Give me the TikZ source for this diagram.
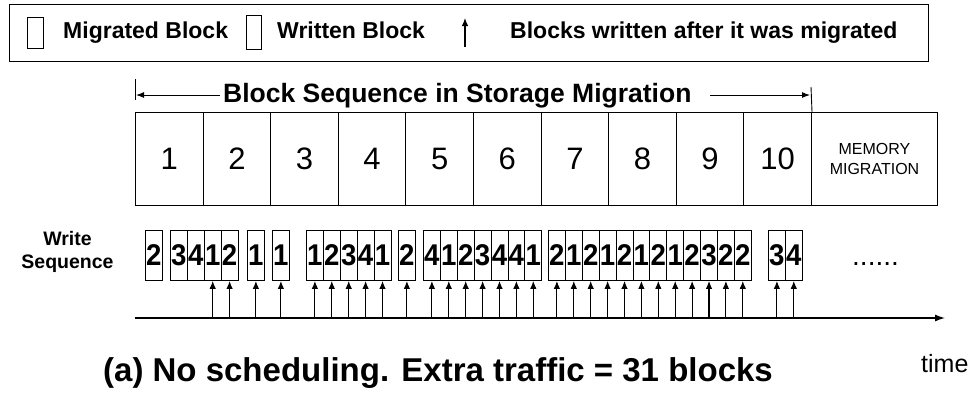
\documentclass[tikz,border=0pt]{standalone}
\usepackage{fontspec}
\setmainfont{Liberation Sans}
\newfontfamily\narrowfont{Liberation Sans}[FakeStretch=0.92]
\usetikzlibrary{arrows.meta}
\begin{document}
\begin{tikzpicture}[x=1pt,y=-1pt,line join=miter]
\tikzset{
  lbox/.style={draw,line width=1pt,inner sep=0pt,anchor=north west},
  lrect/.style={draw,line width=0.9pt,inner sep=0pt,anchor=north west},
  ltext/.style={anchor=base west,inner sep=0pt,font=\bfseries\fontsize{23}{27}\selectfont},
  blk/.style={draw,line width=1pt,inner sep=0pt,anchor=north west,minimum width=67.6pt,minimum height=93pt,font=\fontsize{31}{31}\selectfont},
  head/.style={anchor=base west,inner sep=0pt,font=\bfseries\fontsize{26.5}{30}\selectfont},
  wblk/.style={draw,line width=0.9pt,inner sep=0pt,anchor=north west,minimum width=16.9pt,minimum height=50pt,font=\narrowfont\bfseries\fontsize{30}{30}\selectfont},
  warrow/.style={line width=1.1pt,-{Latex[length=8pt,width=6.5pt]}},
  harrow/.style={line width=1pt,-{Latex[length=8pt,width=6pt]}},
  tarrow/.style={line width=1.3pt,-{Latex[length=10pt,width=7pt]}},
}
\useasboundingbox (0,0) rectangle (976,392);

% legend
\node[lbox,minimum width=919pt,minimum height=57pt] (legend) at (9,4) {};
\node[lrect,minimum width=16pt,minimum height=31pt] (lgm) at (27,17) {};
\node[ltext] (lgmt) at (63,38) {Migrated Block};
\node[lrect,minimum width=15pt,minimum height=34pt] (lgw) at (246,15) {};
\node[ltext] (lgwt) at (277,38) {Written Block};
\coordinate (la0) at (465,47);
\coordinate (la1) at (465,18);
\draw[warrow] (la0) -- (la1);
\node[ltext] (lgat) at (510,38) {Blocks written after it was migrated};

% block sequence
\node[head] (hd) at (223,102) {Block Sequence in Storage Migration};
\foreach \n in {1,...,10}{
  \node[blk] (b\n) at ({135+67.6*(\n-1)},112) {\n};
}
\node[blk,minimum width=126pt,align=center,font=\fontsize{16}{20}\selectfont] (mem) at (811,112) {MEMORY\\MIGRATION};
\coordinate (hLs) at (220,95);
\coordinate (hL) at (136,95);
\draw[harrow] (hLs) -- (hL);
\draw[line width=0.9pt] (135,79) -- (135,100);
\coordinate (hRs) at (710,95);
\coordinate (hR) at (810,95);
\draw[harrow] (hRs) -- (hR);
\coordinate (hRt) at (811,87);
\draw[line width=0.9pt] (hRt) -- (b10.north east);

% write sequence
\node[align=center,inner sep=0pt,font=\bfseries\fontsize{19.5}{23}\selectfont] (wl) at (67.5,252) {Write\\Sequence};
\coordinate (tl) at (135,318);
\coordinate (tr) at (945,318);
\draw[tarrow] (tl) -- (tr);
\foreach \x/\d/\a [count=\i] in {145/2/0,170/3/0,186.9/4/0,203.8/1/1,220.7/2/1,
  247/1/1,272/1/1,
  306/1/1,322.9/2/1,339.8/3/1,356.7/4/1,373.6/1/1,
  398/2/1,
  423/4/1,439.9/1/1,456.8/2/1,473.7/3/1,490.6/4/1,507.5/4/1,524.4/1/1,
  548/2/1,564.9/1/1,581.8/2/1,598.7/1/1,615.6/2/1,632.5/1/1,649.4/2/1,666.3/1/1,683.2/2/1,700.1/3/1,717/2/1,733.9/2/1,
  768/3/1,784.9/4/1}{
  \node[wblk] (w\i) at (\x,230) {\d};
  \ifnum\a=1
    \coordinate (t\i) at (w\i.south |- tl);
    \draw[warrow] (t\i) -- (w\i.south);
  \fi
}
\node[anchor=base west,inner sep=0pt,font=\fontsize{28}{28}\selectfont] (dots) at (852,265) {......};

% caption and time label
\node[anchor=base,inner sep=0pt,font=\bfseries\fontsize{33}{36}\selectfont] (cap) at (438,381) {(a) No scheduling. Extra traffic = 31 blocks};
\node[anchor=base west,inner sep=0pt,font=\fontsize{25}{28}\selectfont] (time) at (921,372) {time};
\end{tikzpicture}
\end{document}
